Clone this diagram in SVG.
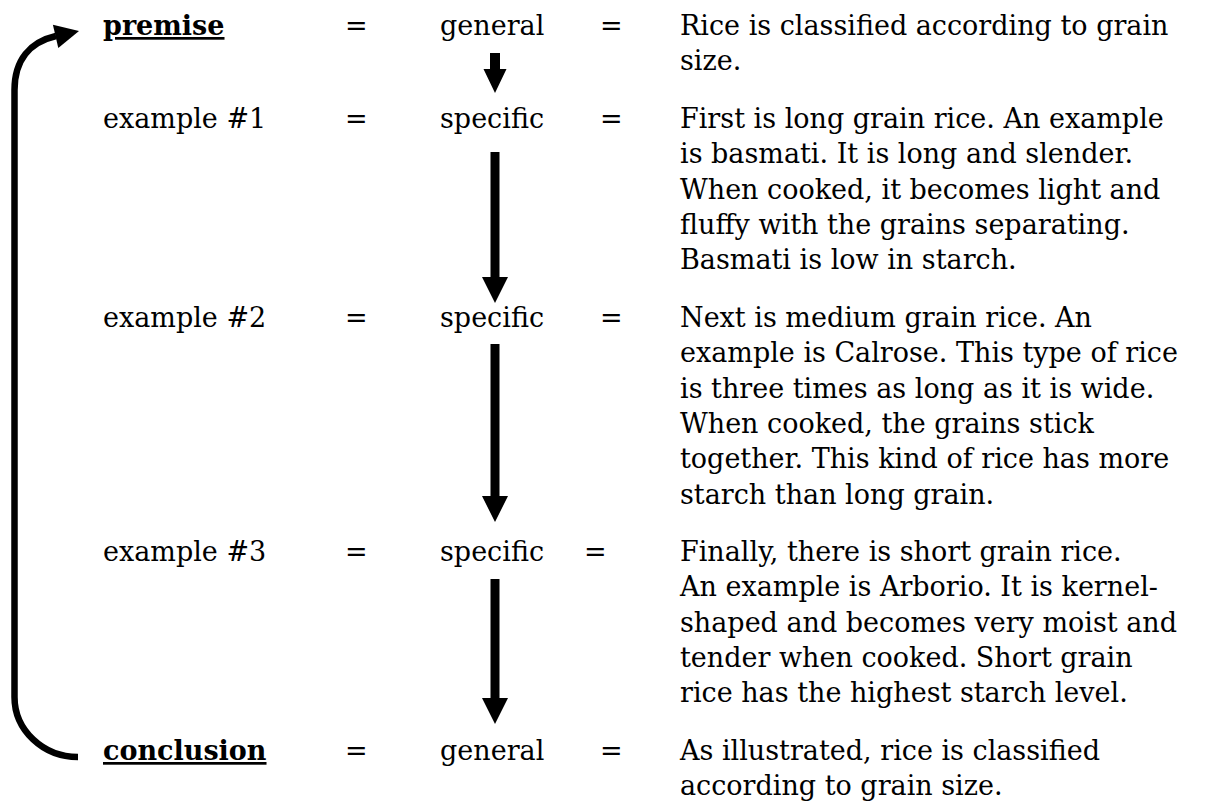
<svg xmlns="http://www.w3.org/2000/svg" width="1205" height="802" viewBox="0 0 1205 802">
<style>
text { font-family: "DejaVu Serif", "Liberation Serif", serif; font-size: 27px; fill: #000; }
.b { font-weight: bold; text-decoration: underline; }
.conn { fill: #000; }
.loop { fill: none; stroke: #000; stroke-width: 6.5; }
</style>
<rect width="1205" height="802" fill="#fff"/>
<g id="row-premise">
<text x="103" y="35" class="b">premise</text>
<text x="345" y="35">=</text>
<text x="440" y="35">general</text>
<text x="600" y="35">=</text>
<text x="680" y="35"><tspan x="680">Rice is classified according to grain</tspan><tspan x="680" dy="35.3">size.</tspan></text>
</g>
<g id="row-example1">
<text x="103" y="128">example #1</text>
<text x="345" y="128">=</text>
<text x="440" y="128">specific</text>
<text x="600" y="128">=</text>
<text x="680" y="128"><tspan x="680">First is long grain rice. An example</tspan><tspan x="680" dy="35.3">is basmati. It is long and slender.</tspan><tspan x="680" dy="35.3">When cooked, it becomes light and</tspan><tspan x="680" dy="35.3">fluffy with the grains separating.</tspan><tspan x="680" dy="35.3">Basmati is low in starch.</tspan></text>
</g>
<g id="row-example2">
<text x="103" y="327">example #2</text>
<text x="345" y="327">=</text>
<text x="440" y="327">specific</text>
<text x="600" y="327">=</text>
<text x="680" y="327"><tspan x="680">Next is medium grain rice. An</tspan><tspan x="680" dy="35.3">example is Calrose. This type of rice</tspan><tspan x="680" dy="35.3">is three times as long as it is wide.</tspan><tspan x="680" dy="35.3">When cooked, the grains stick</tspan><tspan x="680" dy="35.3">together. This kind of rice has more</tspan><tspan x="680" dy="35.3">starch than long grain.</tspan></text>
</g>
<g id="row-example3">
<text x="103" y="561">example #3</text>
<text x="345" y="561">=</text>
<text x="440" y="561">specific</text>
<text x="584" y="561">=</text>
<text x="680" y="561"><tspan x="680">Finally, there is short grain rice.</tspan><tspan x="680" dy="35.3">An example is Arborio. It is kernel-</tspan><tspan x="680" dy="35.3">shaped and becomes very moist and</tspan><tspan x="680" dy="35.3">tender when cooked. Short grain</tspan><tspan x="680" dy="35.3">rice has the highest starch level.</tspan></text>
</g>
<g id="row-conclusion">
<text x="103" y="760" class="b">conclusion</text>
<text x="345" y="760">=</text>
<text x="440" y="760">general</text>
<text x="600" y="760">=</text>
<text x="680" y="760"><tspan x="680">As illustrated, rice is classified</tspan><tspan x="680" dy="35.3">according to grain size.</tspan></text>
</g>
<g id="connectors">
<path class="conn" d="M490,53 H500 V69 H506.5 L495,93 L483.5,69 H490 Z"/>
<path class="conn" d="M490.5,152 H499.5 V277 H508 L495,303 L482,277 H490.5 Z"/>
<path class="conn" d="M490.5,344 H499.5 V496 H508 L495,522 L482,496 H490.5 Z"/>
<path class="conn" d="M490.5,579 H499.5 V698 H508 L495,724 L482,698 H490.5 Z"/>
<path class="loop" d="M56,36 C30,42 14.5,60 14.5,90 L14.5,697 A63.5,60 0 0 0 78,757"/>
<polygon class="conn" points="52.9,24.7 79,31 58.3,48.1"/>
</g>
</svg>
